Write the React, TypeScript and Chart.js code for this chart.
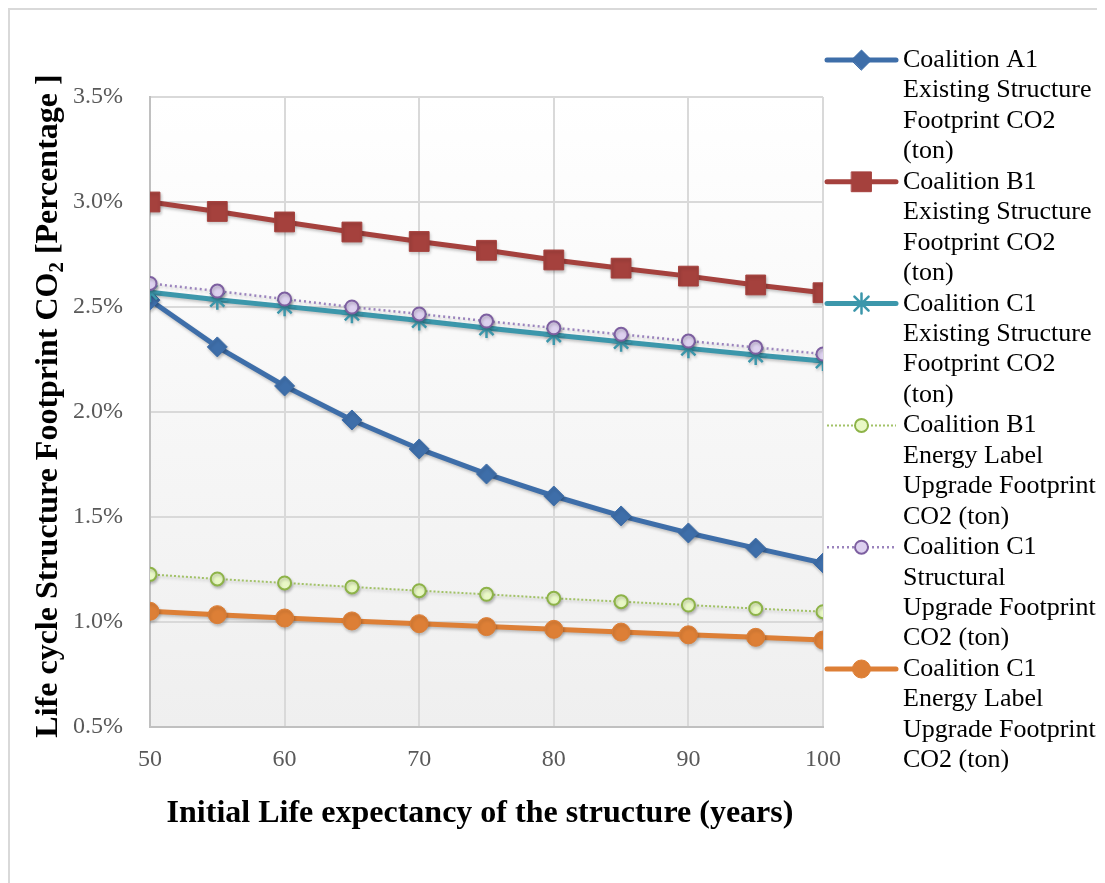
import { useEffect, useRef } from 'react';
import { Chart, registerables } from 'chart.js';
import { drawPoint } from 'chart.js/helpers';

Chart.register(...registerables);

// ---- data ----
const years = [50, 55, 60, 65, 70, 75, 80, 85, 90, 95, 100];
const coalitionA1Existing = [2.533, 2.31, 2.124, 1.962, 1.824, 1.705, 1.6, 1.505, 1.424, 1.352, 1.281];
const coalitionB1Existing = [3.0, 2.955, 2.905, 2.857, 2.812, 2.77, 2.724, 2.685, 2.647, 2.605, 2.568];
const coalitionC1Existing = [2.57, 2.535, 2.503, 2.47, 2.436, 2.4, 2.367, 2.335, 2.303, 2.271, 2.243];
const coalitionB1Energy = [1.227, 1.205, 1.186, 1.167, 1.149, 1.132, 1.113, 1.097, 1.081, 1.064, 1.049];
const coalitionC1Structural = [2.612, 2.576, 2.538, 2.5, 2.467, 2.433, 2.401, 2.37, 2.338, 2.308, 2.276];
const coalitionC1Energy = [1.051, 1.035, 1.019, 1.005, 0.992, 0.978, 0.965, 0.952, 0.939, 0.927, 0.914];

const legendLabels: string[][] = [
  ['Coalition A1', 'Existing Structure', 'Footprint CO2', '(ton)'],
  ['Coalition B1', 'Existing Structure', 'Footprint CO2', '(ton)'],
  ['Coalition C1', 'Existing Structure', 'Footprint CO2', '(ton)'],
  ['Coalition B1', 'Energy Label', 'Upgrade Footprint', 'CO2 (ton)'],
  ['Coalition C1', 'Structural', 'Upgrade Footprint', 'CO2 (ton)'],
  ['Coalition C1', 'Energy Label', 'Upgrade Footprint', 'CO2 (ton)'],
];

const xTitle = 'Initial Life expectancy of the structure (years)';
const yTitleParts = ['Life cycle Structure Footprint CO', '2', ' [Percentage ]'];

const toPoints = (vals: number[]) => vals.map((v, i) => ({ x: years[i], y: v }));

const SERIF = "'Liberation Serif', 'Times New Roman', serif";

const bgPlugin = {
  id: 'bgPlugin',
  beforeDraw(chart: any) {
    const { ctx, chartArea } = chart;
    const { left, top, right, bottom } = chartArea;
    ctx.save();
    // outer frame
    ctx.strokeStyle = '#d9d9d9';
    ctx.lineWidth = 2;
    ctx.beginPath();
    ctx.moveTo(1, chart.height);
    ctx.lineTo(1, 1);
    ctx.lineTo(chart.width, 1);
    ctx.stroke();
    const g = ctx.createLinearGradient(0, top, 0, bottom);
    g.addColorStop(0, '#ffffff');
    g.addColorStop(1, '#efefef');
    ctx.fillStyle = g;
    ctx.fillRect(left, top, right - left, bottom - top);
    ctx.restore();
  },
};

const shadowPlugin = {
  id: 'shadowPlugin',
  beforeDatasetDraw(chart: any) {
    const ctx = chart.ctx;
    ctx.save();
    ctx.shadowColor = 'rgba(0,0,0,0.22)';
    ctx.shadowBlur = 3;
    ctx.shadowOffsetX = 1;
    ctx.shadowOffsetY = 2;
  },
  afterDatasetDraw(chart: any) {
    chart.ctx.restore();
  },
};

const textPlugin = {
  id: 'textPlugin',
  afterDraw(chart: any) {
    const ctx = chart.ctx;
    ctx.save();
    // x title
    ctx.fillStyle = '#000000';
    ctx.font = `bold 32px ${SERIF}`;
    ctx.textAlign = 'center';
    ctx.textBaseline = 'alphabetic';
    ctx.fillText(xTitle, 472, 814);

    // y title (rotated) with subscript
    ctx.save();
    ctx.translate(49, 398);
    ctx.rotate(-Math.PI / 2);
    const big = `bold 32px ${SERIF}`;
    const small = `bold 21px ${SERIF}`;
    ctx.font = big;
    const w1 = ctx.measureText(yTitleParts[0]).width;
    const w3 = ctx.measureText(yTitleParts[2]).width;
    ctx.font = small;
    const w2 = ctx.measureText(yTitleParts[1]).width;
    const total = w1 + w2 + w3;
    let x = -total / 2;
    ctx.textAlign = 'left';
    ctx.font = big;
    ctx.fillText(yTitleParts[0], x, 0);
    x += w1;
    ctx.font = small;
    ctx.fillText(yTitleParts[1], x, 6);
    x += w2;
    ctx.font = big;
    ctx.fillText(yTitleParts[2], x, 0);
    ctx.restore();

    // legend
    const ds = chart.data.datasets;
    const itemStep = 121.8;
    const lineStep = 30.4;
    ds.forEach((d: any, i: number) => {
      const my = 52 + i * itemStep;
      ctx.save();
      ctx.strokeStyle = d.borderColor;
      ctx.lineWidth = d.borderWidth;
      ctx.setLineDash(d.borderDash || []);
      ctx.lineCap = d.borderDash ? 'butt' : 'round';
      ctx.beginPath();
      ctx.moveTo(819, my);
      ctx.lineTo(888, my);
      ctx.stroke();
      ctx.setLineDash([]);
      ctx.fillStyle = d.pointBackgroundColor;
      ctx.strokeStyle = d.pointBorderColor;
      ctx.lineWidth = d.pointBorderWidth;
      drawPoint(ctx, { pointStyle: d.pointStyle, radius: d.pointRadius, borderWidth: d.pointBorderWidth, rotation: 0 } as any, 853.5, my);
      ctx.restore();
      ctx.fillStyle = '#000000';
      ctx.font = `26px ${SERIF}`;
      ctx.textAlign = 'left';
      ctx.textBaseline = 'alphabetic';
      legendLabels[i].forEach((line, j) => {
        ctx.fillText(line, 895, 59 + i * itemStep + j * lineStep);
      });
    });
    ctx.restore();
  },
};

export default function App() {
  const canvasRef = useRef<HTMLCanvasElement | null>(null);

  useEffect(() => {
    if (!canvasRef.current) return;
    const mk = (
      label: string,
      vals: number[],
      color: string,
      width: number,
      style: string,
      radius: number,
      fill: string,
      border: string,
      bw: number,
      order: number,
      dash?: number[],
    ) => ({
      label,
      data: toPoints(vals),
      borderColor: color,
      borderWidth: width,
      borderDash: dash,
      pointStyle: style,
      pointRadius: radius,
      pointBackgroundColor: fill,
      pointBorderColor: border,
      pointBorderWidth: bw,
      pointHoverRadius: radius,
      tension: 0,
      fill: false,
      order,
    });

    const chart = new Chart(canvasRef.current, {
      type: 'line',
      data: {
        datasets: [
          mk(legendLabels[0].join(' '), coalitionA1Existing, '#3e6ea9', 5, 'rectRot', 10, '#3e6ea9', '#3e6ea9', 1, 6),
          mk(legendLabels[1].join(' '), coalitionB1Existing, '#a5413d', 5, 'rect', 14, '#a5413d', '#a5413d', 1, 5),
          mk(legendLabels[2].join(' '), coalitionC1Existing, '#3c97ab', 5, 'star', 10, '#3c97ab', '#3c97ab', 2.5, 4),
          mk(legendLabels[3].join(' '), coalitionB1Energy, '#a2c267', 2, 'circle', 6.5, '#e9f8c6', '#8db348', 2, 3, [2, 2]),
          mk(legendLabels[4].join(' '), coalitionC1Structural, '#9b84bd', 2.5, 'circle', 6.5, '#ddd1ef', '#7d5fa0', 2, 2, [2, 3]),
          mk(legendLabels[5].join(' '), coalitionC1Energy, '#dd7f36', 5, 'circle', 9, '#dd7f36', '#dd7f36', 1, 1),
        ] as any,
      },
      options: {
        animation: false,
        responsive: true,
        maintainAspectRatio: false,
        layout: { padding: { top: 89, right: 274, left: 0, bottom: 0 } },
        plugins: {
          legend: { display: false },
          tooltip: { enabled: false },
          title: { display: false },
        },
        scales: {
          x: {
            type: 'linear',
            min: 50,
            max: 100,
            afterFit: (s: any) => {
              s.height = 156;
            },
            ticks: {
              stepSize: 10,
              padding: 18,
              color: '#595959',
              font: { family: SERIF, size: 24 },
            },
            grid: { color: '#d9d9d9', lineWidth: 2, drawTicks: false },
            border: { color: '#c0c0c0', width: 2 },
          },
          y: {
            type: 'linear',
            min: 0.5,
            max: 3.5,
            afterFit: (s: any) => {
              s.width = 142;
            },
            ticks: {
              stepSize: 0.5,
              padding: 27,
              color: '#595959',
              font: { family: SERIF, size: 24 },
              callback: (v: any) => Number(v).toFixed(1) + '%',
            },
            grid: { color: '#d9d9d9', lineWidth: 2, drawTicks: false },
            border: { color: '#c0c0c0', width: 2 },
          },
        },
      },
      plugins: [bgPlugin, shadowPlugin, textPlugin],
    });
    return () => chart.destroy();
  }, []);

  return (
    <div style={{ width: 1089, height: 875, position: 'relative' }}>
      <canvas ref={canvasRef} />
    </div>
  );
}
